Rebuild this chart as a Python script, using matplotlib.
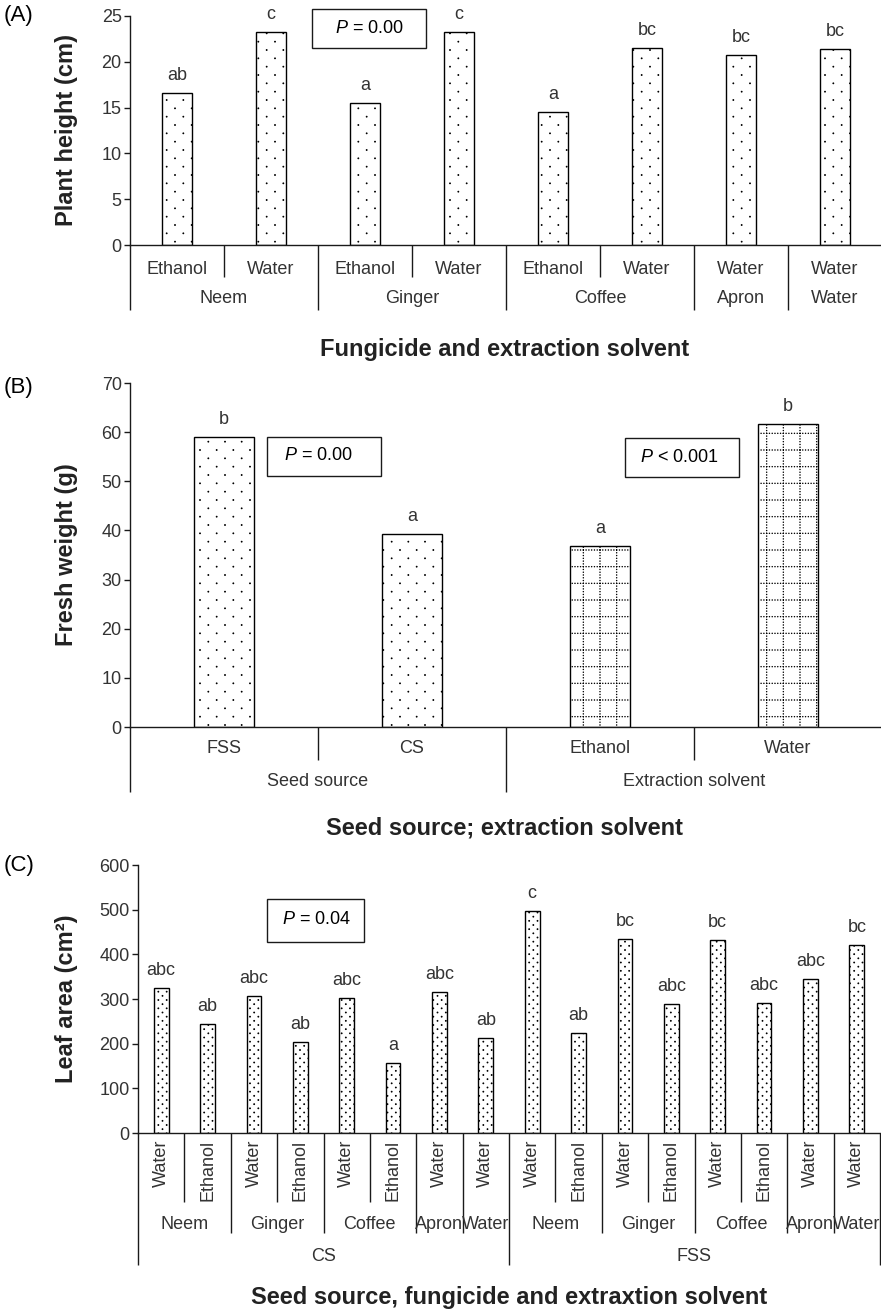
import numpy as np
import matplotlib
matplotlib.use('Agg')
import matplotlib.pyplot as plt
import matplotlib.hatch as mhatch
from matplotlib.path import Path
from matplotlib.patches import Rectangle

# ---- data -------------------------------------------------------------
# (A) plant height
a_solvent = ['Ethanol', 'Water', 'Ethanol', 'Water', 'Ethanol', 'Water', 'Water', 'Water']
a_fungicide = ['Neem', 'Ginger', 'Coffee', 'Apron', 'Water']
a_fung_sizes = [2, 2, 2, 1, 1]
a_height = [16.6, 23.3, 15.5, 23.2, 14.5, 21.5, 20.7, 21.4]
a_letters = ['ab', 'c', 'a', 'c', 'a', 'bc', 'bc', 'bc']

# (B) fresh weight
b_labels = ['FSS', 'CS', 'Ethanol', 'Water']
b_groups = ['Seed source', 'Extraction solvent']
b_group_sizes = [2, 2]
b_weight = [59.1, 39.3, 36.9, 61.6]
b_letters = ['b', 'a', 'a', 'b']

# (C) leaf area
c_source = ['CS', 'FSS']
c_fungicide = ['Neem', 'Ginger', 'Coffee', 'Apron', 'Water']
c_fung_sizes = [2, 2, 2, 1, 1]
c_solvent = ['Water', 'Ethanol', 'Water', 'Ethanol', 'Water', 'Ethanol', 'Water', 'Water']
c_area_cs = [324, 244, 307, 203, 302, 157, 315, 212]
c_area_fss = [498, 224, 434, 288, 432, 291, 344, 421]
c_letters_cs = ['abc', 'ab', 'abc', 'ab', 'abc', 'a', 'abc', 'ab']
c_letters_fss = ['c', 'ab', 'bc', 'abc', 'bc', 'abc', 'abc', 'bc']


# ---- hatch patterns like the original (staggered dots, dotted grid) ----
class StaggeredDots(mhatch.HatchPatternBase):
    radius = 0.005

    def __init__(self, hatch, density):
        self.n = hatch.count('.') * density
        circle = Path.unit_circle()
        self.shape_vertices = circle.vertices * self.radius
        self.shape_codes = circle.codes
        shapes = (self.n + 1) ** 2 + self.n ** 2 if self.n else 0
        self.num_vertices = shapes * len(self.shape_vertices)

    def set_vertices_and_codes(self, vertices, codes):
        step = 1.0 / self.n
        vparts, cparts = [], []
        for row in range(2 * self.n + 1):
            if row % 2 == 0:
                cols = np.linspace(0, 1, self.n + 1)
            else:
                cols = np.linspace(step / 2, 1 - step / 2, self.n)
            for c in cols:
                vparts.append(self.shape_vertices + [c, row * step / 2])
                cparts.append(self.shape_codes)
        np.concatenate(vparts, out=vertices)
        np.concatenate(cparts, out=codes)


class DottedGrid(mhatch.HatchPatternBase):
    radius = 0.003
    per = 6

    def __init__(self, hatch, density):
        self.n = hatch.count('o') * density
        circle = Path.unit_circle()
        self.shape_vertices = circle.vertices * self.radius
        self.shape_codes = circle.codes
        shapes = 2 * (self.n + 1) * (self.n * self.per + 1) if self.n else 0
        self.num_vertices = shapes * len(self.shape_vertices)

    def set_vertices_and_codes(self, vertices, codes):
        lines = np.linspace(0, 1, self.n + 1)
        dots = np.linspace(0, 1, self.n * self.per + 1)
        vparts, cparts = [], []
        for l in lines:
            for d in dots:
                vparts.append(self.shape_vertices + [d, l])
                cparts.append(self.shape_codes)
                vparts.append(self.shape_vertices + [l, d])
                cparts.append(self.shape_codes)
        np.concatenate(vparts, out=vertices)
        np.concatenate(cparts, out=codes)


mhatch._hatch_types = [StaggeredDots if h is mhatch.SmallFilledCircles else
                       DottedGrid if h is mhatch.SmallCircles else h
                       for h in mhatch._hatch_types]

# ---- style -------------------------------------------------------------
plt.rcParams['font.family'] = ['Liberation Sans', 'DejaVu Sans']
plt.rcParams['mathtext.fontset'] = 'custom'
plt.rcParams['mathtext.rm'] = 'Liberation Sans'
plt.rcParams['mathtext.it'] = 'Liberation Sans:italic'
plt.rcParams['hatch.linewidth'] = 0.6
plt.rcParams['hatch.color'] = 'black'

W, H = 881, 1310
TXT = '#333333'
DARK = '#222222'
LINE = '#1a1a1a'
FS = 13


def fx(px):
    return px / W


def fy(py):
    return 1 - py / H


def bounds(sizes):
    return np.concatenate([[0], np.cumsum(sizes)])


def centers(sizes):
    b = bounds(sizes)
    return (b[:-1] + b[1:]) / 2 - 0.5


def setup_axes(rect, n, top, step):
    ax = fig.add_axes(rect)
    ax.set_xlim(-0.5, n - 0.5)
    ax.set_ylim(0, top)
    ax.set_xticks([])
    ax.set_yticks(np.arange(0, top + step / 2, step))
    ax.spines[['top', 'right']].set_visible(False)
    for s in ('left', 'bottom'):
        ax.spines[s].set_color(LINE)
        ax.spines[s].set_linewidth(1.0)
    ax.tick_params(axis='y', direction='out', length=4, width=1.0,
                   color=LINE, labelsize=FS, labelcolor=TXT, pad=2)
    ax.patch.set_alpha(0)
    return ax


def dividers(ax, levels):
    depth_at = {}
    for sizes, depth in levels:
        for b in bounds(sizes):
            depth_at[b] = max(depth_at.get(b, 0), depth)
    trans = ax.get_xaxis_transform()
    for b, d in depth_at.items():
        ax.plot([b - 0.5, b - 0.5], [0, -d], transform=trans, color=LINE,
                lw=1.0, clip_on=False, solid_capstyle='butt')


def group_labels(ax, sizes, names, y, **kw):
    trans = ax.get_xaxis_transform()
    for c, name in zip(centers(sizes), names):
        ax.text(c, y, name, transform=trans, ha='center', va='baseline',
                fontsize=FS, color=TXT, **kw)


def letters(ax, xs, vals, labels):
    for x, v, s in zip(xs, vals, labels):
        ax.annotate(s, (x, v), xytext=(0, 9.4), textcoords='offset points',
                    ha='center', va='baseline', fontsize=FS, color=TXT)


def p_box(x0, y0, x1, y1, tx, ty, text):
    fig.patches.append(Rectangle((fx(x0), fy(y1)), fx(x1 - x0), (y1 - y0) / H,
                                 transform=fig.transFigure, fill=False,
                                 edgecolor=LINE, lw=1.0))
    fig.text(fx(tx), fy(ty), text, ha='center', va='center', fontsize=FS,
             color='black')


fig = plt.figure(figsize=(W / 100, H / 100), dpi=100)

# ---- (A) ----------------------------------------------------------------
na = len(a_height)
ax = setup_axes([fx(130), fy(245), 752 / W, 229 / H], na, 25, 5)
xa = np.arange(na)
ax.bar(xa, a_height, width=0.32, color='white', edgecolor='black', lw=1.0, hatch='.')
letters(ax, xa, a_height, a_letters)
dividers(ax, [([1] * na, 0.140), (a_fung_sizes, 0.284)])
group_labels(ax, [1] * na, a_solvent, -0.127)
group_labels(ax, a_fung_sizes, a_fungicide, -0.253)
fig.text(fx(67), fy(130), 'Plant height (cm)', rotation=90, ha='center', va='center',
         fontsize=17, fontweight='bold', color=DARK)
fig.text(fx(505), fy(356), 'Fungicide and extraction solvent', ha='center', va='baseline',
         fontsize=17, fontweight='bold', color=DARK)
fig.text(fx(4), fy(15), '(A)', ha='left', va='center', fontsize=16, color='black')
p_box(312, 9, 426, 48, 369, 28.5, r'$P$ = 0.00')

# ---- (B) ----------------------------------------------------------------
nb = len(b_weight)
ax = setup_axes([fx(130), fy(727), 752 / W, 344 / H], nb, 70, 10)
xb = np.arange(nb)
ax.bar(xb, b_weight, width=0.32, color='white', edgecolor='black', lw=1.0,
       hatch=['.', '.', 'o', 'o'])
letters(ax, xb, b_weight, b_letters)
dividers(ax, [([1] * nb, 0.096), (b_group_sizes, 0.189)])
group_labels(ax, [1] * nb, b_labels, -0.0756)
group_labels(ax, b_group_sizes, b_groups, -0.171)
fig.text(fx(66), fy(555), 'Fresh weight (g)', rotation=90, ha='center', va='center',
         fontsize=17, fontweight='bold', color=DARK)
fig.text(fx(505), fy(834), 'Seed source; extraction solvent', ha='center', va='baseline',
         fontsize=17, fontweight='bold', color=DARK)
fig.text(fx(4), fy(388), '(B)', ha='left', va='center', fontsize=16, color='black')
p_box(267, 437, 381, 476, 318, 456, r'$P$ = 0.00')
p_box(625, 438, 739, 477, 679, 457, r'$P$ < 0.001')

# ---- (C) ----------------------------------------------------------------
c_area = c_area_cs + c_area_fss
c_letters = c_letters_cs + c_letters_fss
nc = len(c_area)
ax = setup_axes([fx(138), fy(1133), 742 / W, 268 / H], nc, 600, 100)
xc = np.arange(nc)
ax.bar(xc, c_area, width=0.32, color='white', edgecolor='black', lw=1.0, hatch='..')
letters(ax, xc, c_area, c_letters)
dividers(ax, [([1] * nc, 0.257), (c_fung_sizes * 2, 0.373), ([8, 8], 0.493)])
trans = ax.get_xaxis_transform()
for x, s in zip(xc, c_solvent * 2):
    ax.text(x, -0.026, s, transform=trans, rotation=90, ha='center', va='top',
            fontsize=FS, color=TXT)
group_labels(ax, c_fung_sizes * 2, c_fungicide * 2, -0.358)
group_labels(ax, [8, 8], c_source, -0.478)
fig.text(fx(66), fy(999), 'Leaf area (cm²)', rotation=90, ha='center', va='center',
         fontsize=17, fontweight='bold', color=DARK)
fig.text(fx(509), fy(1304), 'Seed source, fungicide and extraxtion solvent', ha='center',
         va='baseline', fontsize=17, fontweight='bold', color=DARK)
fig.text(fx(4), fy(865), '(C)', ha='left', va='center', fontsize=16, color='black')
p_box(267, 899, 364, 942, 317, 920, r'$P$ = 0.04')

fig.savefig('out.png', dpi=100)
